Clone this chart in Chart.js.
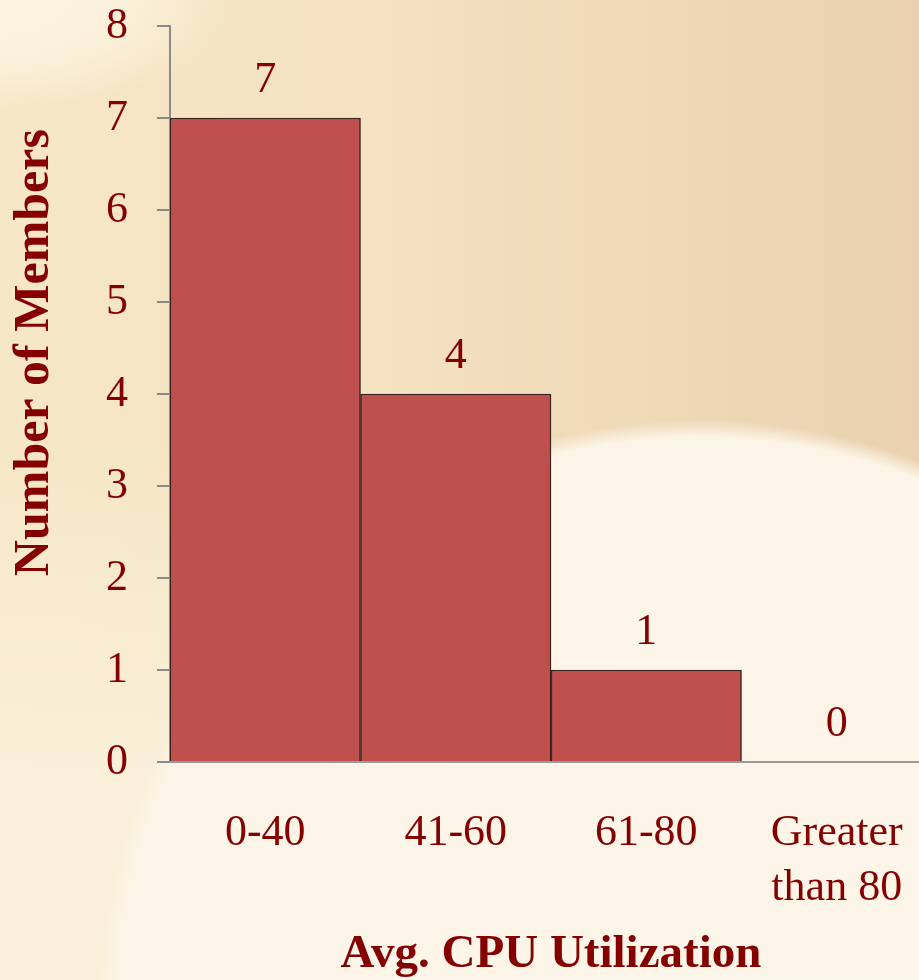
<!DOCTYPE html>
<html>
<head>
<meta charset="utf-8">
<script src="https://cdn.jsdelivr.net/npm/chart.js@4/dist/chart.umd.min.js"></script>
<style>
  html, body { margin: 0; padding: 0; width: 919px; height: 980px; overflow: hidden; }
  body {
    background:
      radial-gradient(ellipse 600px 590px at 700px 1010px, #fcf6e9 0, #fcf5e7 97%, rgba(252,245,231,0) 100%),
      radial-gradient(ellipse 230px 110px at 0px 0px, rgba(252,244,226,1) 0, rgba(252,244,226,0.7) 60%, rgba(252,244,226,0) 100%),
      linear-gradient(to bottom, rgba(250,240,218,0) 0%, rgba(250,240,218,0) 45%, rgba(250,240,218,1) 80%),
      linear-gradient(to right, #f6e7c6 0%, #f4e2c0 40%, #ead0ae 100%);
  }
  #wrap { position: absolute; left: 0; top: 0; width: 935px; height: 980px; }
</style>
</head>
<body>
<div id="wrap"><canvas id="chart" width="935" height="980"></canvas></div>
<script>
const categories = ["0-40", "41-60", "61-80", ["Greater", "than 80"]];
const members = [7, 4, 1, 0];
const yTicks = [0, 1, 2, 3, 4, 5, 6, 7, 8];
const yTitle = "Number of Members";
const xTitle = "Avg. CPU Utilization";

const textColor = "#850000";
const serif = "'Liberation Serif', 'DejaVu Serif', serif";

const valueLabels = {
  id: "valueLabels",
  afterDatasetsDraw(chart) {
    const ctx = chart.ctx;
    const meta = chart.getDatasetMeta(0);
    ctx.save();
    ctx.fillStyle = textColor;
    ctx.font = "44px " + serif;
    ctx.textAlign = "center";
    ctx.textBaseline = "middle";
    meta.data.forEach((bar, i) => {
      ctx.fillText(String(members[i]), bar.x, bar.y - 38);
    });
    // y axis title, a bit above the middle of the axis as in the original
    ctx.font = "bold 50px " + serif;
    ctx.translate(35, chart.scales.y.getPixelForValue(4.45));
    ctx.rotate(-Math.PI / 2);
    ctx.fillText(yTitle, 0, 0);
    ctx.restore();
  },
};

new Chart(document.getElementById("chart"), {
  type: "bar",
  data: {
    labels: categories,
    datasets: [{
      data: members,
      backgroundColor: "#c0504d",
      borderColor: "#3b2623",
      borderWidth: 1.5,
      categoryPercentage: 1,
      barPercentage: 1,
    }],
  },
  options: {
    responsive: false,
    animation: false,
    layout: { padding: { top: 26, right: 3, left: 0, bottom: 0 } },
    plugins: { legend: { display: false }, tooltip: { enabled: false } },
    scales: {
      y: {
        min: 0,
        max: 8,
        afterBuildTicks: (s) => { s.ticks = yTicks.map((v) => ({ value: v })); },
        afterFit: (s) => { s.width = 170; s.paddingTop = 0; s.paddingBottom = 0; },
        ticks: { color: textColor, font: { family: serif, size: 44, lineHeight: 1.0 }, padding: 29 },
        grid: { drawOnChartArea: false, tickLength: 13, color: "#8a8a8a", lineWidth: 2 },
        border: { color: "#8a8a8a", width: 2 },
      },
      x: {
        afterFit: (s) => { s.height = 218; s.paddingLeft = 0; s.paddingRight = 0; },
        ticks: { color: textColor, font: { family: serif, size: 44, lineHeight: 1.25 }, padding: 36, maxRotation: 0 },
        grid: { display: false },
        border: { color: "#9a9a9a", width: 2 },
        title: {
          display: true,
          text: xTitle,
          color: textColor,
          font: { family: serif, size: 47, weight: "bold", lineHeight: 1.0 },
          padding: { top: 0, bottom: 2 },
        },
      },
    },
  },
  plugins: [valueLabels],
});
</script>
</body>
</html>
